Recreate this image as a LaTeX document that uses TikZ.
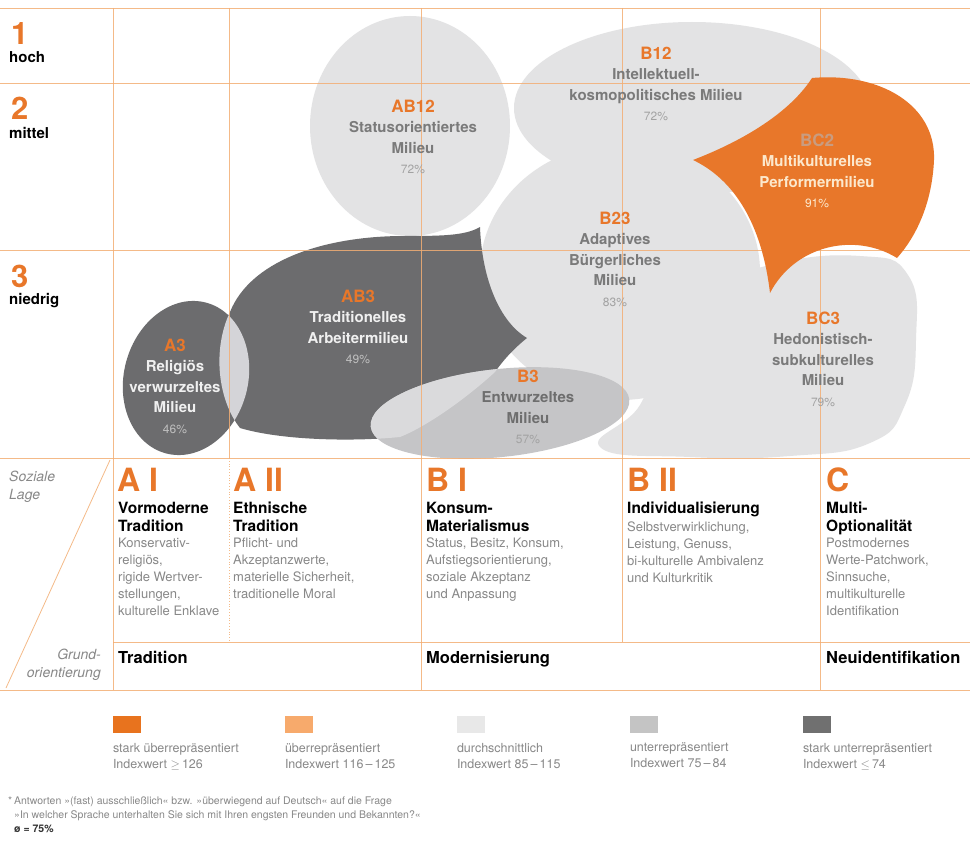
\documentclass[tikz,border=0pt]{standalone}
\usepackage{fontspec}
\setmainfont{TeX Gyre Heros}
\usetikzlibrary{positioning}

\definecolor{milorange}{HTML}{E8772A}
\definecolor{gridorange}{HTML}{F3AE74}
\definecolor{lightmil}{HTML}{E3E3E4}
\definecolor{midmil}{HTML}{C5C5C7}
\definecolor{darkmil}{HTML}{6C6C6E}
\definecolor{lensgrey}{HTML}{D4D4D8}
\definecolor{overlapgrey}{HTML}{DADADC}
\definecolor{nametext}{HTML}{7A7A7A}
\definecolor{pcttext}{HTML}{A2A2A2}
\definecolor{desctext}{HTML}{888888}
\definecolor{cream}{HTML}{FCE8CC}
\definecolor{bccode}{HTML}{C99C80}
\definecolor{legorange}{HTML}{E8731E}
\definecolor{leglightorange}{HTML}{F7AA6C}
\definecolor{leglight}{HTML}{E8E8E8}
\definecolor{legmid}{HTML}{C4C4C4}
\definecolor{legdark}{HTML}{707070}

\newcommand{\mcode}[2][milorange]{{\fontsize{17}{20.5}\selectfont\color{#1}#2}}
\newcommand{\mpct}[2][pcttext]{{\fontsize{12}{20.5}\selectfont\mdseries\color{#1}#2}}
\newcommand{\arbeiterpath}{(230,312) .. controls (250,262) and (320,237) .. (400,236)
  .. controls (440,236) and (465,236) .. (480,227)
  .. controls (482,280) and (500,322) .. (527,338)
  .. controls (512,350) and (502,362) .. (495,372)
  .. controls (470,395) and (430,425) .. (400,437)
  .. controls (350,442) and (280,440) .. (240,428)
  .. controls (218,400) and (212,350) .. (230,312) -- cycle}

\tikzset{
  gridline/.style={gridorange, line width=0.8pt, draw opacity=0.85},
  rownum/.style={anchor=base west, inner sep=0pt, text=milorange, font=\fontsize{31}{31}\selectfont\bfseries},
  rowname/.style={anchor=base west, inner sep=0pt, font=\fontsize{15}{17}\selectfont\bfseries},
  milieu/.style={align=center, inner sep=0pt, text=nametext, font=\fontsize{15}{20.5}\selectfont\bfseries},
  milieudark/.style={milieu, text=white!94!black},
  colletter/.style={anchor=base west, inner sep=0pt, text=milorange, font=\fontsize{32}{32}\selectfont\bfseries},
  coltitle/.style={anchor=north west, inner sep=0pt, align=left, font=\fontsize{15.5}{18}\selectfont\bfseries},
  coldesc/.style={anchor=north west, inner sep=0pt, align=left, text=desctext, font=\fontsize{13}{17}\selectfont},
  orient/.style={anchor=base west, inner sep=0pt, font=\fontsize{16.5}{18}\selectfont\bfseries},
  axisnote/.style={inner sep=0pt, text=desctext, font=\fontsize{14}{18}\selectfont\itshape},
  legsq/.style={minimum width=28pt, minimum height=17pt, inner sep=0pt},
  legtext/.style={anchor=north west, inner sep=0pt, align=left, text=desctext, font=\fontsize{12.5}{16}\selectfont},
  footnote/.style={anchor=north west, inner sep=0pt, align=left, text=desctext, font=\fontsize{10.5}{14}\selectfont}
}

\begin{document}
\begin{tikzpicture}[x=1pt,y=-1pt]
\useasboundingbox (0,0) rectangle (970,859);
\fill[white] (0,0) rectangle (970,859);

% light milieus
\fill[lightmil] (410,126) ellipse [x radius=100pt, y radius=110pt];
\fill[lightmil] (692,108) ellipse [x radius=178pt, y radius=86pt];
\fill[lightmil] (620,272) ellipse [x radius=140pt, y radius=128pt];
\fill[lightmil] plot [smooth cycle, tension=0.8] coordinates {(600,447) (640,405) (660,345) (700,295) (770,265) (860,256) (908,275) (916,340) (905,405) (870,443) (790,456) (690,457)};

% dark milieus
\fill[darkmil] \arbeiterpath;
\begin{scope}[shift={(186,378)},rotate=-15]
  \fill[darkmil] (0,0) ellipse [x radius=62pt, y radius=78pt];
\end{scope}
\begin{scope}
  \clip \arbeiterpath;
  \begin{scope}[shift={(186,378)},rotate=-15]
    \fill[lensgrey] (0,0) ellipse [x radius=62pt, y radius=78pt];
  \end{scope}
\end{scope}

% Entwurzeltes Milieu
\begin{scope}[shift={(500,413)},rotate=6]
  \fill[midmil] (0,0) ellipse [x radius=130pt, y radius=44pt];
\end{scope}
\begin{scope}
  \clip \arbeiterpath;
  \begin{scope}[shift={(500,413)},rotate=6]
    \fill[overlapgrey] (0,0) ellipse [x radius=130pt, y radius=44pt];
  \end{scope}
\end{scope}

% grid
\draw[gridline] (0,8) -- (970,8);
\draw[gridline] (0,83) -- (970,83);
\draw[gridline] (0,250) -- (970,250);
\draw[gridline] (0,458) -- (970,458);
\draw[gridline] (113,642) -- (970,642);
\draw[gridline] (0,690) -- (970,690);
\draw[gridline] (113,8) -- (113,690);
\draw[gridline] (229,8) -- (229,458);
\draw[gridline, dotted] (229,458) -- (229,642);
\draw[gridline] (421,8) -- (421,690);
\draw[gridline] (622,8) -- (622,642);
\draw[gridline] (820,8) -- (820,690);
\draw[gridline] (110,460) -- (6,688);

% Performermilieu
\fill[milorange] (693,160) .. controls (745,140) and (790,112) .. (812,78)
  .. controls (880,72) and (936,105) .. (934,160)
  .. controls (932,205) and (915,238) .. (897,258)
  .. controls (855,232) and (795,245) .. (770,293)
  .. controls (762,225) and (735,180) .. (693,160) -- cycle;

% rows
\node[rownum] (r1) at (11,45) {1};
\node[rowname] (r1n) at (9,63) {hoch};
\node[rownum] (r2) at (11,120) {2};
\node[rowname] (r2n) at (9,138) {mittel};
\node[rownum] (r3) at (11,287) {3};
\node[rowname] (r3n) at (9,304) {niedrig};

% milieu labels
\node[milieu] (ab12) at (413,137) {\mcode{AB12}\\Statusorientiertes\\Milieu\\\mpct{72\%}};
\node[milieu] (b12) at (656,84) {\mcode{B12}\\Intellektuell-\\kosmopolitisches Milieu\\\mpct{72\%}};
\node[milieu, text=cream] (bc2) at (817,171) {\mcode[bccode]{BC2}\\Multikulturelles\\Performermilieu\\\mpct[cream]{91\%}};
\node[milieu] (b23) at (615,259) {\mcode{B23}\\Adaptives\\Bürgerliches\\Milieu\\\mpct{83\%}};
\node[milieu] (bc3) at (823,359) {\mcode{BC3}\\Hedonistisch-\\subkulturelles\\Milieu\\\mpct{79\%}};
\node[milieudark] (ab3) at (358,327) {\mcode{AB3}\\Traditionelles\\Arbeitermilieu\\\mpct[white!75!black]{49\%}};
\node[milieudark] (a3) at (175,386) {\mcode{A3}\\Religiös\\verwurzeltes\\Milieu\\\mpct[white!75!black]{46\%}};
\node[milieu, text=nametext!90!black] (b3) at (528,407) {\mcode{B3}\\Entwurzeltes\\Milieu\\\mpct{57\%}};

% axis notes
\node[axisnote, anchor=north west, align=left] (lage) at (9,471) {Soziale\\Lage};
\node[axisnote, anchor=north east, align=right] (grund) at (101,649) {Grund-\\orientierung};

% columns
\node[colletter] (AI) at (117,491) {A I};
\node[coltitle] (AIt) at (118,501.5) {Vormoderne\\Tradition};
\node[coldesc] (AId) at (118,538) {Konservativ-\\religiös,\\rigide Wertver-\\stellungen,\\kulturelle Enklave};

\node[colletter] (AII) at (233,491) {A II};
\node[coltitle] (AIIt) at (233,501.5) {Ethnische\\Tradition};
\node[coldesc] (AIId) at (233,538) {Pflicht- und\\Akzeptanzwerte,\\materielle Sicherheit,\\traditionelle Moral};

\node[colletter] (BI) at (426,491) {B I};
\node[coltitle] (BIt) at (426,501.5) {Konsum-\\Materialismus};
\node[coldesc] (BId) at (426,538) {Status, Besitz, Konsum,\\Aufstiegsorientierung,\\soziale Akzeptanz\\und Anpassung};

\node[colletter] (BII) at (627,491) {B II};
\node[coltitle] (BIIt) at (627,501.5) {Individualisierung};
\node[coldesc] (BIId) at (627,522) {Selbstverwirklichung,\\Leistung, Genuss,\\bi-kulturelle Ambivalenz\\und Kulturkritik};

\node[colletter] (C) at (826,491) {C};
\node[coltitle] (Ct) at (826,501.5) {Multi-\\Optionalität};
\node[coldesc] (Cd) at (826,538) {Postmodernes\\Werte-Patchwork,\\Sinnsuche,\\multikulturelle\\Identifikation};

\node[orient] (otrad) at (118,663) {Tradition};
\node[orient] (omod) at (426,663) {Modernisierung};
\node[orient] (oneu) at (826,663) {Neuidentifikation};

% legend
\node[legsq, fill=legorange] (lsA) at (127,724) {};
\node[below=10pt of lsA.south west, legtext] (ltA) {stark überrepräsentiert\\Indexwert $\geq$\,126};
\node[legsq, fill=leglightorange] (lsB) at (299,724) {};
\node[below=10pt of lsB.south west, legtext] (ltB) {überrepräsentiert\\Indexwert 116\,--\,125};
\node[legsq, fill=leglight] (lsC) at (471,724) {};
\node[below=10pt of lsC.south west, legtext] (ltC) {durchschnittlich\\Indexwert 85\,--\,115};
\node[legsq, fill=legmid] (lsD) at (644,724) {};
\node[below=10pt of lsD.south west, legtext] (ltD) {unterrepräsentiert\\Indexwert 75\,--\,84};
\node[legsq, fill=legdark] (lsE) at (817,724) {};
\node[below=10pt of lsE.south west, legtext] (ltE) {stark unterrepräsentiert\\Indexwert $\leq$\,74};

% footnote
\node[footnote] (note) at (8,797) {*\,Antworten »(fast) ausschließlich« bzw. »überwiegend auf Deutsch« auf die Frage\\\hspace*{6pt}»In welcher Sprache unterhalten Sie sich mit Ihren engsten Freunden und Bekannten?«\\\hspace*{6pt}{\bfseries\color{black!80}ø = 75\%}};
\end{tikzpicture}
\end{document}
